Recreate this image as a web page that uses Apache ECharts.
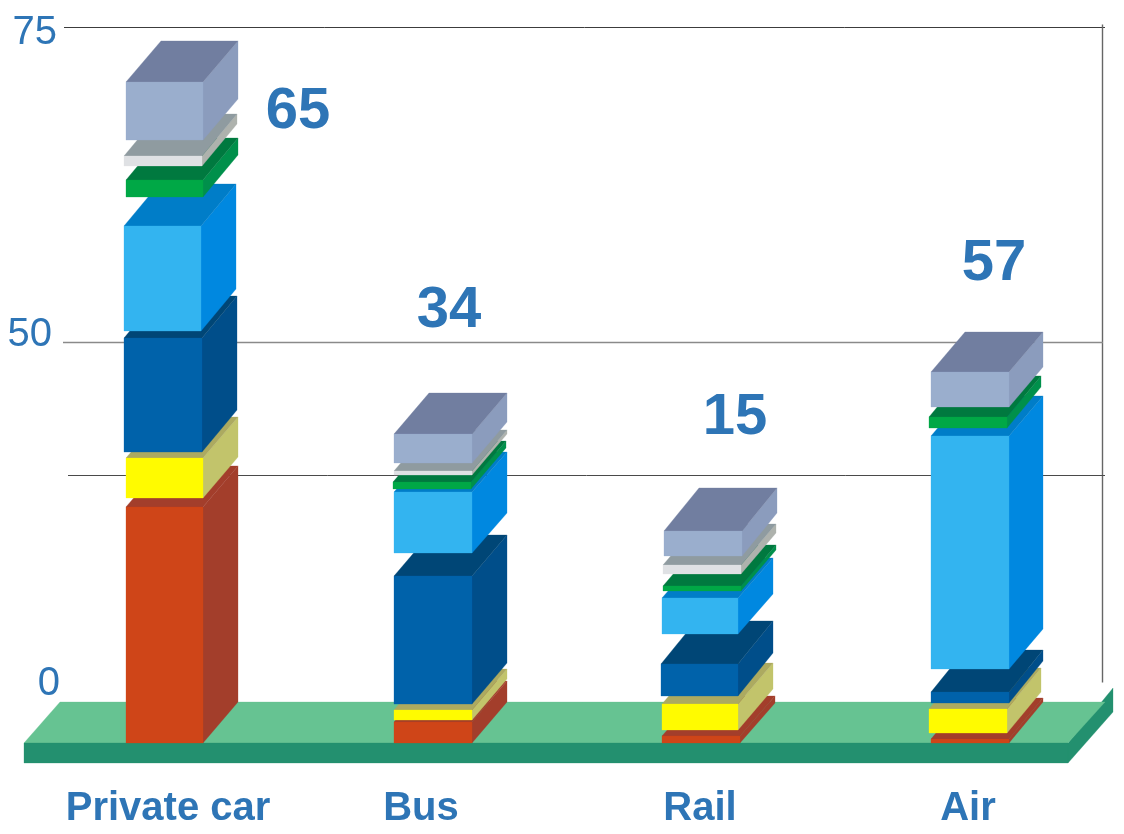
<!DOCTYPE html>
<html>
<head>
<meta charset="utf-8">
<style>html,body{margin:0;padding:0;background:#fff}#c{width:1124px;height:834px}</style>
<script src="https://cdn.jsdelivr.net/npm/echarts@6/dist/echarts.min.js"></script>
</head>
<body>
<div id="c"></div>
<script>
// ---- data (axis units, [low, high] per category) ----
const categories = ['Private car', 'Bus', 'Rail', 'Air'];
const totals = [65, 34, 15, 57];
const tickLabels = ['75', '50', '0'];
const tickLabelValues = [69.81, 40.11, 5.80];
const gridValues = [70.40, 39.43, 26.35];
const segment1 = [[0, 23.21], [0, 2.06], [0, 0.69], [0, 0.39]];
const segment2 = [[24.09, 28.02], [2.26, 3.24], [1.28, 3.83], [0.98, 3.34]];
const segment3 = [[28.61, 39.82], [3.83, 16.42], [4.62, 7.77], [3.93, 5.01]];
const segment4 = [[40.51, 50.84], [18.68, 24.68], [10.72, 14.26], [7.28, 30.19]];
const segment5 = [[53.69, 55.36], [24.98, 25.66], [14.95, 15.44], [30.97, 32.06]];
const segment6 = [[56.74, 57.72], [26.35, 26.75], [16.62, 17.50], null];
const segment7 = [[59.29, 65.00], [27.53, 30.38], [18.39, 20.85], [33.04, 36.48]];
const totalLabelValues = [62.0, 42.5, 32.0, 47.1];

// ---- styling ----
const BLUE = '#2E75B6';
const BAR_W = 78;
const DX = [35, 35, 35, 34];
const FONT = '"Liberation Sans", Arial, sans-serif';
const styles = [
  { front: '#CF4518', side: '#A33E2B', top: '#A33E2B', nudge: [0, 0, 0, 1], w: [77, 78, 78, 78], dy: [41, 41, 40, 41] },
  { front: '#FFFB00', side: '#C2C46B', top: '#ACAA60', nudge: [0, 0, 0, -1], w: [77, 78, 76, 78], dy: [41, 41, 41, 41] },
  { front: '#0062AA', side: '#004E8A', top: '#004676', nudge: [-2, 0, -1, 1], w: [78, 78, 77, 78], dy: [42, 41, 43, 42] },
  { front: '#33B4F0', side: '#0088E0', top: '#007DC8', nudge: [-2, 0, 0, 1], w: [77, 78, 76, 78], dy: [42, 40, 40, 40] },
  { front: '#00A846', side: '#00904B', top: '#00793F', nudge: [0, -1, 1, -1], w: [77, 78, 78, 78], dy: [42, 41, 41, 41] },
  { front: '#DFE1E4', side: '#AEB2AD', top: '#8F9BA0', nudge: [-2, 0, 1, 0], w: [78, 78, 78, 78], dy: [42, 41, 41, 41] },
  { front: '#9AAECD', side: '#8B9CBD', top: '#717EA0', nudge: [0, 0, 2, 1], w: [77, 78, 78, 78], dy: [41, 41, 43, 40] }
];
const segments = [segment1, segment2, segment3, segment4, segment5, segment6, segment7];
const totalDx = [133, 16, 34, 25];

function poly(points, fill) {
  return { type: 'polygon', shape: { points }, style: { fill, stroke: fill, lineWidth: 0.3 }, silent: true };
}

function boxSeries(values, st, i) {
  return {
    type: 'custom', name: 'segment' + (i + 1), coordinateSystem: 'cartesian2d', clip: false, z: 5 + i,
    data: values.map((v, c) => v ? [c, v[0], v[1]] : [c, null, null]),
    encode: { x: 0, y: [1, 2] },
    renderItem(params, api) {
      if (api.value(1) == null || isNaN(api.value(1))) return null;
      const c = api.value(0);
      const center = api.coord([c, 0])[0];
      const yLow = api.coord([c, api.value(1)])[1];
      const yHigh = api.coord([c, api.value(2)])[1];
      const l = Math.round(center - BAR_W / 2 + st.nudge[c]);
      const r = l + st.w[c];
      const dx = DX[c], dy = st.dy[c];
      return {
        type: 'group',
        children: [
          poly([[r, yLow], [r + dx, yLow - dy], [r + dx, yHigh - dy], [r, yHigh]], st.side),
          poly([[l, yHigh], [r, yHigh], [r + dx, yHigh - dy], [l + dx, yHigh - dy]], st.top),
          poly([[l, yLow], [r, yLow], [r, yHigh], [l, yHigh]], st.front)
        ]
      };
    }
  };
}

const floorSeries = {
  type: 'custom', name: 'floor', clip: false, z: 2, silent: true,
  data: [[0, 0]],
  encode: { x: 0, y: 1 },
  renderItem(params, api) {
    const y = api.coord([0, 0])[1];
    const g = params.coordSys;
    const l = g.x - 7, r = g.x + g.width - 35;
    return {
      type: 'group',
      children: [
        poly([[r, y], [r + 45, y - 55], [r + 45, y - 31], [r, y + 20]], '#23906F'),
        poly([[l, y], [r, y], [r + 37, y - 41], [l + 36, y - 41]], '#66C392'),
        poly([[l, y], [r, y], [r, y + 20], [l, y + 20]], '#23906F')
      ]
    };
  }
};

const gridSeries = {
  type: 'custom', name: 'gridlines', clip: false, z: 1, silent: true,
  data: gridValues.map((v, i) => [0, v, i]),
  encode: { x: 0, y: 1 },
  renderItem(params, api) {
    const i = api.value(2);
    const y = Math.round(api.coord([0, api.value(1)])[1]) + 0.5;
    const g = params.coordSys;
    const xs = [[64, 1105, '#3C3C3C', 1], [63, 1103, '#8A8A8A', 1.6], [68, 1105, '#4A4A4A', 1]][i];
    const children = [{ type: 'line', shape: { x1: xs[0], y1: y, x2: xs[1], y2: y }, style: { stroke: xs[2], lineWidth: xs[3] } }];
    if (i === 0) {
      children.push({
        type: 'line',
        shape: { x1: g.x + g.width - 0.5, y1: y - 3, x2: g.x + g.width - 0.5, y2: y + 655 },
        style: { stroke: '#666666', lineWidth: 1.4 }
      });
    }
    return { type: 'group', children };
  }
};

const totalSeries = {
  type: 'custom', name: 'totals', clip: false, z: 20, silent: true,
  data: totals.map((t, c) => [c, totalLabelValues[c], t]),
  encode: { x: 0, y: 1 },
  renderItem(params, api) {
    const c = api.value(0);
    const p = api.coord([c, api.value(1)]);
    return {
      type: 'text',
      style: {
        text: String(api.value(2)), x: p[0] + totalDx[c], y: p[1],
        align: 'center', verticalAlign: 'middle',
        font: 'bold 58px ' + FONT, fill: BLUE
      }
    };
  }
};

const catPad = { 'Private car': [0, 0, 0, 6], 'Bus': [0, 24, 0, 0], 'Rail': [0, 2, 0, 0], 'Air': [0, 2, 0, 0] };
const catRich = {};
categories.forEach((n, i) => {
  catRich['c' + i] = { padding: catPad[n], fontFamily: FONT, fontWeight: 'bold', fontSize: 40, color: BLUE };
});

const option = {
  backgroundColor: '#ffffff',
  animation: false,
  grid: { left: 31, top: 0, width: 1072, height: 743, containLabel: false },
  tooltip: { show: false },
  xAxis: {
    type: 'category', data: categories,
    axisLine: { show: false }, axisTick: { show: false }, splitLine: { show: false },
    axisLabel: {
      interval: 0, margin: 46,
      formatter: (v) => '{c' + categories.indexOf(v) + '|' + v + '}',
      rich: catRich
    }
  },
  yAxis: {
    type: 'value', min: 0, max: 73.06,
    axisLine: { show: false }, axisTick: { show: false }, splitLine: { show: false },
    axisLabel: {
      customValues: tickLabelValues,
      margin: -29,
      formatter: (v) => '{t' + tickLabelValues.indexOf(v) + '|' + tickLabels[tickLabelValues.indexOf(v)] + '}',
      rich: {
        t0: { padding: [0, 3, 0, 0], fontFamily: FONT, fontSize: 40, color: BLUE },
        t1: { padding: [0, 8, 0, 0], fontFamily: FONT, fontSize: 40, color: BLUE },
        t2: { padding: [0, 0, 0, 0], fontFamily: FONT, fontSize: 40, color: BLUE }
      }
    }
  },
  series: [gridSeries, floorSeries]
    .concat(segments.map((s, i) => boxSeries(s, styles[i], i)))
    .concat([totalSeries])
};

const chart = echarts.init(document.getElementById('c'));
chart.setOption(option);
</script>
</body>
</html>
